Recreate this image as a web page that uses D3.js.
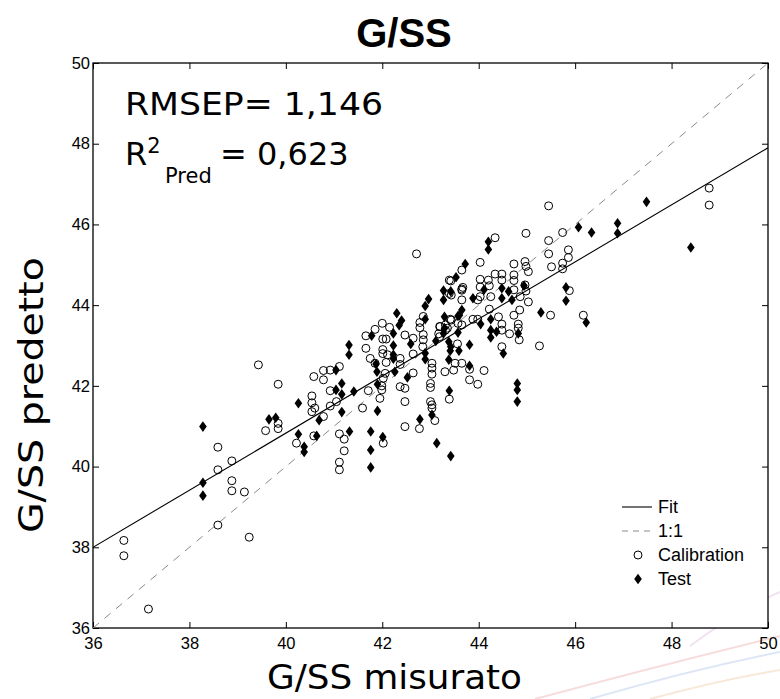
<!DOCTYPE html>
<html>
<head>
<meta charset="utf-8">
<script src="https://cdn.jsdelivr.net/npm/d3@7"></script>
<style>
  html, body { margin: 0; padding: 0; background: #fff; }
  svg { display: block; }
</style>
</head>
<body>
<div id="chart"></div>
<script>
// values
const titleText = "G/SS";
const xLabel = "G/SS misurato";
const yLabel = "G/SS predetto";
const axisDomain = [36, 50];
const xTicks = [36, 38, 40, 42, 44, 46, 48, 50];
const yTicks = [36, 38, 40, 42, 44, 46, 48, 50];
const rmsep = "1,146";
const r2pred = "0,623";

// fit line and 1:1 line end points [x, y]
const fitLine = [[36, 38.0], [50, 47.9]];
const oneToOne = [[36, 36], [50, 50]];

const legendItems = ["Fit", "1:1", "Calibration", "Test"];

// calibration samples [measured, predicted]
const calibration = [
  [39.43,42.52],[39.84,42.04],[38.59,40.48],[38.59,39.92],[38.88,40.14],[38.88,39.65],[38.88,39.40],
  [39.14,39.37],[38.59,38.55],[39.24,38.25],[36.64,38.17],[36.64,37.79],[37.15,36.47],[39.58,40.89],
  [39.84,41.07],[39.84,40.94],[40.22,40.58],[40.54,41.75],[40.54,41.58],[40.54,41.36],[40.6,41.45],
  [40.58,42.23],[40.78,42.15],[40.78,42.38],[40.92,42.39],[41.11,42.48],[40.92,41.88],[40.92,41.5],
  [40.78,41.24],[40.58,40.76],[41.05,41.61],[41.11,40.81],[41.21,40.68],[41.21,40.39],[41.11,40.11],
  [41.11,39.92],[41.59,41.45],[41.71,41.88],[41.66,43.24],[41.66,42.93],[41.75,42.68],[41.85,42.56],
  [41.95,41.69],[41.99,41.9],[41.99,42.0],[42.02,40.58],[42.01,43.16],[42.01,42.9],[42.01,42.8],
  [42.02,42.19],[42.06,42.31],[42.08,42.58],[42.11,42.77],[42.08,43.16],[42.37,42.68],[42.37,42.53],
  [42.37,41.98],[42.0,43.55],[42.15,43.45],[41.85,43.4],
  [42.71,45.27],[45.45,46.46],[48.78,46.48],[48.78,46.9],[44.34,45.67],[44.98,45.78],[45.45,45.6],
  [45.74,45.8],[45.45,45.27],[45.51,44.95],[45.74,45.04],[45.74,44.9],[45.86,45.37],[45.86,45.18],
  [44.03,45.06],[43.65,44.87],[43.39,44.62],[43.42,44.6],[43.67,44.44],[43.65,44.4],[44.03,44.64],
  [44.03,44.45],[44.2,44.62],[44.22,44.48],[44.34,44.77],[44.48,44.77],[44.48,44.62],[44.73,45.02],
  [44.73,44.75],[44.73,44.61],[44.73,44.38],[44.96,45.08],[44.98,44.96],[45.03,44.83],[44.96,44.5],
  [44.98,44.35],[45.03,44.08],[44.86,44.21],[44.85,43.88],[44.73,43.75],[44.82,43.53],[44.82,43.43],
  [44.84,43.14],[44.64,43.29],[44.22,43.9],[44.41,43.71],[44.48,43.53],[44.48,43.38],[44.48,42.97],
  [44.25,44.21],[44.03,44.21],[43.98,44.13],[43.65,44.13],[43.65,44.37],[43.88,43.65],[43.98,43.65],
  [43.65,43.51],[43.41,43.65],[43.2,43.47],[43.31,43.38],[43.17,43.29],[43.56,43.04],[43.51,42.56],
  [43.65,42.56],[43.3,42.35],[43.48,42.39],[43.81,42.41],[43.81,42.15],[43.98,42.04],[44.11,42.38],
  [43.39,41.67],[43.03,42.56],[43.03,42.44],[43.03,42.29],[43.0,42.06],[43.0,41.96],[43.0,41.61],
  [43.03,41.53],[43.03,41.45],[43.09,41.14],[42.77,40.94],[42.47,40.99],[42.47,41.61],[42.47,41.94],
  [42.64,42.32],[42.64,42.79],[42.84,42.97],[42.85,43.14],[42.85,43.27],[42.78,43.44],[42.78,43.57],
  [42.85,43.72],[42.64,43.18],[42.47,43.26],[43.19,43.47],[43.19,43.22],[43.31,43.51],[43.35,43.43],
  [43.43,43.63],[43.57,43.55],[43.39,44.29],[43.43,44.25],[45.26,42.99],[45.49,43.75],[46.17,43.75],
  [45.88,44.36]
];

// test samples [measured, predicted]
const test = [
  [38.28,40.99],[38.28,39.6],[38.28,39.28],[39.65,41.17],[39.79,41.21],[40.26,41.57],[40.26,40.8],
  [40.38,40.49],[40.38,40.36],[40.64,40.76],[40.69,41.15],[41.04,42.39],[41.16,42.06],[41.04,41.9],
  [41.16,41.79],[41.16,41.35],[41.31,43.01],[41.31,42.77],[41.41,41.86],[41.32,40.87],[41.76,40.87],
  [41.76,40.41],[41.76,39.98],[41.9,41.38],[42.01,40.73],[41.78,43.24],[41.87,42.54],[41.89,42.35],
  [41.9,42.04],[42.23,43.3],[42.23,43.0],[42.23,42.77],[42.23,42.67],[42.26,42.35],[42.3,43.8],
  [42.35,43.5],
  [47.48,46.56],[46.88,46.03],[46.88,45.78],[46.34,45.8],[46.07,45.93],[48.4,45.43],[44.2,45.57],
  [44.2,45.38],[43.72,45.02],[43.53,44.69],[43.27,44.36],[43.42,44.34],[43.27,44.13],[43.88,44.17],
  [44.11,44.38],[44.48,44.42],[44.48,44.17],[44.62,44.34],[44.69,44.13],[44.94,44.48],[45.81,44.44],
  [45.81,44.11],[45.29,43.82],[46.23,43.57],[42.96,44.15],[42.89,43.98],[42.89,43.65],[42.4,43.62],
  [43.29,43.71],[43.57,43.73],[43.65,43.88],[43.6,43.75],[43.57,43.32],[43.29,43.43],[43.27,43.3],
  [44.04,43.53],[44.25,43.65],[44.25,43.38],[44.25,43.2],[44.37,43.34],[44.82,43.3],[43.11,43.11],
  [42.59,43.04],[42.89,42.81],[42.89,42.66],[43.38,43.09],[43.42,42.97],[43.41,42.87],[43.59,42.87],
  [43.38,42.65],[43.81,43.02],[43.81,42.5],[44.51,42.8],[42.52,42.21],[43.39,41.88],[44.8,42.06],
  [44.8,41.9],[44.8,41.61],[42.78,41.17],[43.03,41.28],[43.13,40.58],[43.42,40.26]
];

const width = 780;
const height = 699;
const margin = { top: 63, right: 12, bottom: 71, left: 93 };
const plotW = width - margin.left - margin.right;
const plotH = height - margin.top - margin.bottom;

const tickFont = "'Liberation Sans', Arial, sans-serif";
const textFont = "'DejaVu Sans', Verdana, sans-serif";

const svg = d3.select("#chart").append("svg")
  .attr("width", width)
  .attr("height", height);

// faint slide decoration in the lower right corner
const swooshes = [
  { d: "M535,699 Q650,668 780,636", c: "#f2c4c4" },
  { d: "M590,699 Q690,670 780,652", c: "#c8d6ef" },
  { d: "M650,699 Q720,680 780,670", c: "#f3d9bd" },
  { d: "M690,646 Q735,612 780,592", c: "#e6cfe6" }
];
svg.append("g")
  .selectAll("path")
  .data(swooshes)
  .join("path")
  .attr("d", d => d.d)
  .attr("fill", "none")
  .attr("stroke", d => d.c)
  .attr("stroke-width", 2)
  .attr("opacity", 0.6);

const x = d3.scaleLinear().domain(axisDomain).range([margin.left, margin.left + plotW]);
const y = d3.scaleLinear().domain(axisDomain).range([margin.top + plotH, margin.top]);

// white plot background over the decoration
svg.append("rect")
  .attr("x", margin.left).attr("y", margin.top)
  .attr("width", plotW).attr("height", plotH)
  .attr("fill", "#fff");

// title
svg.append("text")
  .attr("x", 404)
  .attr("y", 47)
  .attr("text-anchor", "middle")
  .style("font-family", tickFont)
  .style("font-weight", "bold")
  .style("font-size", "40px")
  .text(titleText);

// axes, ticks point inward like matlab
const tickLen = 6;
const fmt = d3.format("d");

svg.append("g")
  .attr("transform", "translate(0," + (margin.top + plotH) + ")")
  .call(d3.axisBottom(x).tickValues(xTicks).tickSize(-tickLen).tickPadding(tickLen + 3).tickFormat(fmt))
  .call(g => g.select(".domain").remove());

svg.append("g")
  .attr("transform", "translate(0," + margin.top + ")")
  .call(d3.axisTop(x).tickValues(xTicks).tickSize(-tickLen).tickFormat(""))
  .call(g => g.select(".domain").remove());

svg.append("g")
  .attr("transform", "translate(" + margin.left + ",0)")
  .call(d3.axisLeft(y).tickValues(yTicks).tickSize(-tickLen).tickPadding(3).tickFormat(fmt))
  .call(g => g.select(".domain").remove());

svg.append("g")
  .attr("transform", "translate(" + (margin.left + plotW) + ",0)")
  .call(d3.axisRight(y).tickValues(yTicks).tickSize(-tickLen).tickFormat(""))
  .call(g => g.select(".domain").remove());

svg.selectAll(".tick text")
  .style("font-family", tickFont)
  .style("font-size", "16.5px")
  .attr("fill", "#000");

svg.selectAll(".tick line").attr("stroke", "#000");

// frame
svg.append("rect")
  .attr("x", margin.left)
  .attr("y", margin.top)
  .attr("width", plotW)
  .attr("height", plotH)
  .attr("fill", "none")
  .attr("stroke", "#000")
  .attr("stroke-width", 1.3);

svg.append("clipPath").attr("id", "clip")
  .append("rect")
  .attr("x", margin.left).attr("y", margin.top)
  .attr("width", plotW).attr("height", plotH);

const plot = svg.append("g").attr("clip-path", "url(#clip)");

const line = d3.line().x(d => x(d[0])).y(d => y(d[1]));

plot.append("path")
  .datum(oneToOne)
  .attr("d", line)
  .attr("fill", "none")
  .attr("stroke", "#8a8a8a")
  .attr("stroke-width", 1)
  .attr("stroke-dasharray", "8,7");

plot.append("path")
  .datum(fitLine)
  .attr("d", line)
  .attr("fill", "none")
  .attr("stroke", "#000")
  .attr("stroke-width", 1.1);

const diamond = "M0,-5.3L3.8,0L0,5.3L-3.8,0Z";

plot.selectAll("circle.cal")
  .data(calibration)
  .join("circle")
  .attr("class", "cal")
  .attr("cx", d => x(d[0]))
  .attr("cy", d => y(d[1]))
  .attr("r", 4)
  .attr("fill", "none")
  .attr("stroke", "#000")
  .attr("stroke-width", 1);

plot.selectAll("path.test")
  .data(test)
  .join("path")
  .attr("class", "test")
  .attr("d", diamond)
  .attr("transform", d => "translate(" + x(d[0]) + "," + y(d[1]) + ")")
  .attr("fill", "#000");

// stats text
const stats = svg.append("g").style("font-family", textFont).attr("fill", "#000");
stats.append("text")
  .attr("x", 125)
  .attr("y", 115)
  .attr("textLength", 258)
  .attr("lengthAdjust", "spacingAndGlyphs")
  .style("font-size", "32px")
  .text("RMSEP= " + rmsep);

const r2 = stats.append("text")
  .attr("y", 165)
  .style("font-size", "32px");
r2.append("tspan").attr("x", 125).text("R");
r2.append("tspan").attr("dy", -12).style("font-size", "21px").text("2");
r2.append("tspan").attr("x", 165).attr("dy", 30).style("font-size", "21px").text("Pred");
r2.append("tspan").attr("x", 220).attr("dy", -18).text("= " + r2pred);

// axis titles
svg.append("text")
  .attr("x", 267)
  .attr("y", 689)
  .attr("textLength", 255)
  .attr("lengthAdjust", "spacingAndGlyphs")
  .style("font-family", textFont)
  .style("font-size", "34px")
  .text(xLabel);

svg.append("text")
  .attr("transform", "translate(43,533) rotate(-90)")
  .attr("textLength", 276)
  .attr("lengthAdjust", "spacingAndGlyphs")
  .style("font-family", textFont)
  .style("font-size", "34px")
  .text(yLabel);

// legend
const legend = svg.append("g")
  .style("font-family", tickFont)
  .style("font-size", "18px");
const legX = 622;
const legY = 507;
const rowH = 24;

legendItems.forEach(function (name, i) {
  const row = legend.append("g").attr("transform", "translate(" + legX + "," + (legY + i * rowH) + ")");
  if (i === 0) {
    row.append("line").attr("x1", 0).attr("x2", 30).attr("stroke", "#000").attr("stroke-width", 1.1);
  } else if (i === 1) {
    row.append("line").attr("x1", 0).attr("x2", 30).attr("stroke", "#8a8a8a").attr("stroke-dasharray", "6,5");
  } else if (i === 2) {
    row.append("circle").attr("cx", 16).attr("r", 4).attr("fill", "none").attr("stroke", "#000");
  } else {
    row.append("path").attr("d", diamond).attr("transform", "translate(16,0)").attr("fill", "#000");
  }
  row.append("text").attr("x", 36).attr("dy", "0.35em").text(name);
});
</script>
</body>
</html>
